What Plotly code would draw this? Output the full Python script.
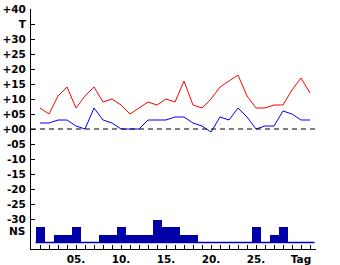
import plotly.graph_objects as go

# ---- data ----
days = list(range(1, 32))
t_max = [7, 5, 11, 14, 7, 11, 14, 9, 10, 8, 5, 7, 9, 8, 10, 9, 16, 8, 7, 10, 14, 16, 18, 11, 7, 7, 8, 8, 13, 17, 12]
t_min = [2, 2, 3, 3, 1, 0, 7, 3, 2, 0, 0, 0, 3, 3, 3, 4, 4, 2, 1, -1, 4, 3, 7, 4, 0, 1, 1, 6, 5, 3, 3]
ns = [2, 0, 1, 1, 2, 0, 0, 1, 1, 2, 1, 1, 1, 3, 2, 2, 1, 1, 0, 0, 0, 0, 0, 0, 2, 0, 1, 2, 0, 0, 0]

y_tickvals = [40, 35, 30, 25, 20, 15, 10, 5, 0, -5, -10, -15, -20, -25, -30]
y_ticktext = ["+40", "T", "+30", "+25", "+20", "+15", "+10", "+05", "+00",
              "-05", "-10", "-15", "-20", "-25", "-30"]
x_label_map = {5: "05.", 10: "10.", 15: "15.", 20: "20.", 25: "25.", 30: "Tag"}
x_ticktext = [x_label_map.get(d, "") for d in days]

NAVY = "#0000a8"
FONT = dict(family="DejaVu Sans", size=10.5, color="black", weight="bold")

fig = go.Figure()
fig.add_trace(go.Bar(x=days, y=ns, yaxis="y2", width=1,
                     marker=dict(color=NAVY, line=dict(width=0)),
                     showlegend=False, hoverinfo="skip"))
fig.add_trace(go.Scatter(x=days, y=t_max, mode="lines",
                         line=dict(color="#ff0000", width=1), showlegend=False))
fig.add_trace(go.Scatter(x=days, y=t_min, mode="lines",
                         line=dict(color="#0000ff", width=1), showlegend=False))

# zero line (dashed)
fig.add_shape(type="line", xref="x domain", x0=0.0, x1=1.0, yref="y", y0=0, y1=0,
              line=dict(color="black", width=1.2, dash="5px,4px"))
# precipitation baseline
fig.add_shape(type="line", xref="x", x0=0.5, x1=31.5, yref="y2", y0=0, y1=0,
              line=dict(color=NAVY, width=1.5))

fig.add_annotation(text="NS", xref="paper", x=0, xanchor="right", xshift=-4,
                   yref="y", y=-34, yanchor="middle", showarrow=False, font=FONT)

fig.update_layout(
    template="none",
    width=340, height=265,
    margin=dict(l=31, r=24, t=9, b=16, pad=0, autoexpand=False),
    paper_bgcolor="white", plot_bgcolor="white",
    bargap=0,
    font=FONT,
    xaxis=dict(range=[0, 285 / 9], tickvals=days, ticktext=x_ticktext,
               ticks="inside", ticklen=4, tickwidth=1, tickcolor="black",
               showline=True, linecolor="black", linewidth=1,
               showgrid=False, zeroline=False, tickfont=FONT,
               ticklabelstandoff=0, automargin=False),
    yaxis=dict(range=[-40, 40], tickvals=y_tickvals, ticktext=y_ticktext,
               ticks="inside", ticklen=4, tickwidth=1, tickcolor="black",
               showline=True, linecolor="black", linewidth=1,
               showgrid=False, zeroline=False, tickfont=FONT,
               ticklabelstandoff=2, automargin=False),
    yaxis2=dict(overlaying="y", range=[-(249 - 242.5) / 7.6, (242.5 - 9) / 7.6],
                visible=False, showgrid=False, zeroline=False, automargin=False),
)

fig.write_html("out.html")
